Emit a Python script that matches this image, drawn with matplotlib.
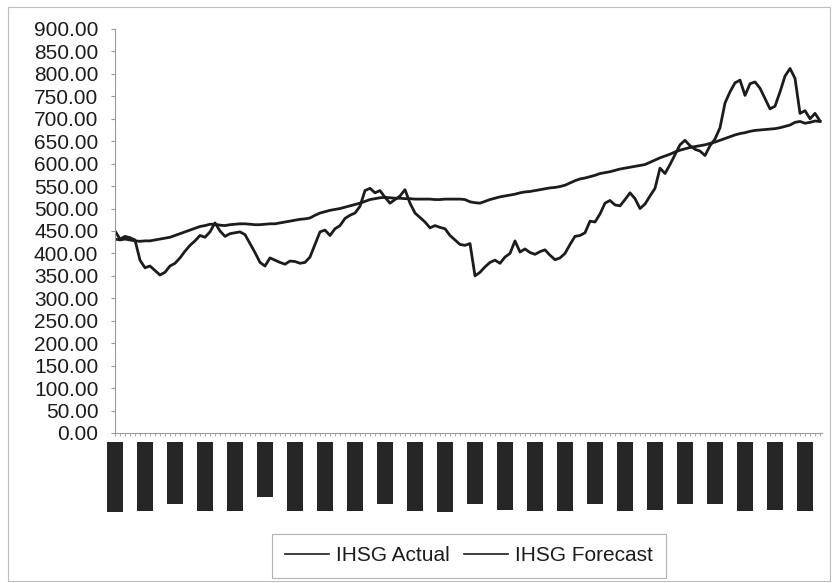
import numpy as np
import matplotlib.pyplot as plt
from matplotlib.patches import Rectangle

plt.rcParams['font.family'] = ['Liberation Sans', 'DejaVu Sans']

# IHSG index, actual closing level (evenly spaced samples)
ihsg_actual = [
    450, 432, 438, 435, 430, 385, 368, 372, 362, 352,
    358, 372, 378, 390, 405, 418, 428, 440, 436, 448,
    468, 450, 438, 444, 446, 448, 442, 422, 402, 380,
    372, 390, 385, 380, 376, 383, 382, 378, 380, 392,
    420, 448, 452, 440, 455, 462, 478, 485, 490, 505,
    540, 545, 535, 540, 525, 512, 520, 528, 542, 512,
    490, 480, 470, 457, 462, 458, 455, 440, 430, 420,
    418, 422, 350, 358, 370, 380, 385, 378, 392, 400,
    428, 403, 410, 402, 398, 404, 408, 396, 386, 390,
    400, 420, 438, 440, 446, 472, 470, 488, 512, 518,
    508, 506, 520, 535, 522, 500, 510, 528, 545, 590,
    578, 598, 620, 642, 652, 640, 632, 628, 618, 640,
    655, 680, 735, 760, 780, 786, 752, 778, 782, 768,
    745, 722, 728, 760, 795, 812, 790, 712, 718, 700,
    712, 695,
]

# IHSG forecast (smooth trend line)
ihsg_forecast = [
    432, 430, 432, 430, 428, 427, 428, 428, 430, 432,
    434, 436, 440, 444, 448, 452, 456, 460, 462, 465,
    465, 463, 462, 464, 465, 466, 466, 465, 464, 464,
    465, 466, 466, 468, 470, 472, 474, 476, 477, 479,
    485, 490, 493, 496, 498, 500, 503, 506, 509, 512,
    516, 520, 522, 524, 525, 524, 523, 523, 522, 522,
    521, 521, 521, 521, 520, 520, 521, 521, 521, 521,
    520, 515, 513, 512, 516, 520, 523, 526, 528, 530,
    532, 535, 537, 538, 540, 542, 544, 546, 547, 549,
    552, 557, 562, 566, 568, 571, 574, 578, 580, 582,
    585, 588, 590, 592, 594, 596, 598, 603, 608, 613,
    617, 621, 626, 630, 633, 636, 638, 640, 642, 645,
    648, 652, 656, 660, 664, 667, 669, 672, 674, 675,
    676, 677, 678, 680, 683, 686, 692, 694, 690, 692,
    695, 694,
]

# date labels on the category axis (blacked out in the scan)
date_labels = [
    "15/01/2001", "14/02/2001", "9/03/2001", "10/04/2001", "11/05/2001",
    "8/6/2001", "10/07/2001", "13/08/2001", "12/09/2001", "9/10/2001",
    "12/11/2001", "14/12/2001", "8/01/2002", "11/02/2002", "13/03/2002",
    "15/04/2002", "6/05/2002", "10/06/2002", "11/07/2002", "7/08/2002",
    "9/09/2002", "10/10/2002", "11/11/2002", "12/12/2002",
]
label_every = 6

ink = '#1c1c1c'
axis_grey = '#9a9a9a'

fig = plt.figure(figsize=(8.32, 5.83), dpi=100)
ax = fig.add_axes([0.1382, 0.2573, 0.8498, 0.6930])

x = np.arange(len(ihsg_actual))
ax.plot(x, ihsg_actual, color=ink, lw=2.0, label='IHSG Actual')
ax.plot(x, ihsg_forecast, color=ink, lw=2.0, label='IHSG Forecast')

ax.set_xlim(0, len(x) - 0.6)
ax.set_ylim(0, 900)
ax.set_yticks(np.arange(0, 901, 50))
ax.set_yticklabels([f'{v:.2f}' for v in np.arange(0, 901, 50)])

ax.set_xticks(np.arange(len(date_labels)) * label_every)
ax.set_xticklabels(date_labels, rotation=90, fontsize=9.5, color='#262626')
ax.set_xticks(x, minor=True)
for lbl in ax.get_xticklabels():
    lbl.set_bbox(dict(facecolor='#262626', edgecolor='none', pad=1.1))

for s in ['top', 'right']:
    ax.spines[s].set_visible(False)
ax.spines['left'].set_color(axis_grey)
ax.spines['left'].set_linewidth(0.8)
ax.spines['bottom'].set_color(axis_grey)
ax.spines['bottom'].set_linewidth(0.8)
ax.tick_params(axis='y', direction='out', length=3, width=0.8, color=axis_grey,
               labelsize=15, labelcolor=ink, pad=9)
ax.tick_params(axis='x', which='both', direction='out', length=2.5, width=0.6,
               color=axis_grey, pad=5)

# legend at the bottom
leg = fig.legend(loc='center', bbox_to_anchor=(0.5637, 0.047), ncol=2,
                 fontsize=15, frameon=True, fancybox=False, handlelength=2.1,
                 handletextpad=0.35, columnspacing=0.7, borderpad=0.6,
                 borderaxespad=0.2)
leg.get_frame().set_edgecolor('#a0a0a0')
leg.get_frame().set_linewidth(0.8)
for t in leg.get_texts():
    t.set_color(ink)
for ln in leg.get_lines():
    ln.set_linewidth(1.2)

# outer chart-area border
fig.patches.append(Rectangle((0.0096, 0.0034), 0.988, 0.9846, transform=fig.transFigure,
                             fill=False, edgecolor='#bdbdbd', lw=0.8))

fig.savefig('out.png', dpi=100)
